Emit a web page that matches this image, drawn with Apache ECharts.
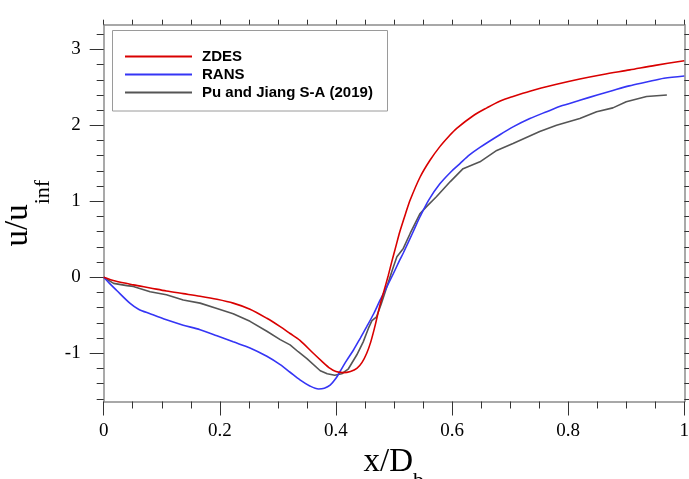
<!DOCTYPE html>
<html>
<head>
<meta charset="utf-8">
<script src="https://cdn.jsdelivr.net/npm/echarts@6/dist/echarts.min.js"></script>
<style>
html,body{margin:0;padding:0;background:#fff;}
#chart{width:689px;height:479px;}
</style>
</head>
<body>
<div id="chart"></div>
<script>
const seriesNames = ['ZDES', 'RANS', 'Pu and Jiang S-A (2019)'];
const seriesColors = ['#d90000', '#3535f5', '#555555'];

const zdesX = [0, 0.02, 0.051, 0.08, 0.108, 0.137, 0.166, 0.195, 0.223, 0.252, 0.281, 0.304, 0.321, 0.338, 0.361, 0.375, 0.39, 0.40, 0.413, 0.425, 0.436, 0.445, 0.453, 0.46, 0.467, 0.476, 0.482, 0.490, 0.496, 0.503, 0.510, 0.52, 0.528, 0.545, 0.562, 0.579, 0.595, 0.608, 0.637, 0.66, 0.683, 0.705, 0.734, 0.78, 0.82, 0.86, 0.906, 0.95, 1.0];
const zdesY = [0, -0.05, -0.10, -0.14, -0.18, -0.215, -0.25, -0.29, -0.34, -0.42, -0.54, -0.65, -0.74, -0.83, -1.0, -1.10, -1.20, -1.24, -1.255, -1.24, -1.20, -1.12, -1.0, -0.85, -0.65, -0.36, -0.20, 0.02, 0.20, 0.40, 0.60, 0.84, 1.02, 1.32, 1.54, 1.72, 1.86, 1.96, 2.13, 2.23, 2.32, 2.38, 2.45, 2.54, 2.61, 2.67, 2.73, 2.79, 2.85];

const ransX = [0, 0.01, 0.022, 0.045, 0.06, 0.08, 0.108, 0.137, 0.166, 0.195, 0.223, 0.252, 0.281, 0.304, 0.321, 0.338, 0.355, 0.370, 0.380, 0.390, 0.400, 0.407, 0.418, 0.430, 0.442, 0.453, 0.465, 0.476, 0.488, 0.499, 0.51, 0.516, 0.533, 0.545, 0.56, 0.579, 0.597, 0.614, 0.63, 0.648, 0.683, 0.705, 0.734, 0.763, 0.79, 0.82, 0.85, 0.877, 0.905, 0.935, 0.965, 1.0];
const ransY = [0, -0.08, -0.17, -0.34, -0.42, -0.48, -0.56, -0.63, -0.69, -0.77, -0.85, -0.93, -1.04, -1.15, -1.25, -1.35, -1.43, -1.47, -1.46, -1.42, -1.33, -1.24, -1.10, -0.96, -0.80, -0.65, -0.48, -0.30, -0.12, 0.05, 0.23, 0.32, 0.60, 0.80, 1.02, 1.23, 1.38, 1.50, 1.61, 1.71, 1.88, 1.98, 2.09, 2.18, 2.26, 2.33, 2.40, 2.46, 2.52, 2.57, 2.62, 2.65];

const puX = [0, 0.017, 0.04, 0.051, 0.08, 0.108, 0.137, 0.166, 0.195, 0.223, 0.252, 0.281, 0.304, 0.321, 0.335, 0.350, 0.373, 0.385, 0.398, 0.41, 0.421, 0.436, 0.447, 0.456, 0.462, 0.470, 0.478, 0.487, 0.499, 0.505, 0.516, 0.528, 0.545, 0.556, 0.573, 0.597, 0.619, 0.648, 0.677, 0.705, 0.751, 0.78, 0.82, 0.849, 0.877, 0.9, 0.935, 0.97];
const puY = [0, -0.08, -0.11, -0.12, -0.19, -0.23, -0.30, -0.34, -0.41, -0.48, -0.58, -0.71, -0.82, -0.89, -0.98, -1.07, -1.23, -1.27, -1.29, -1.27, -1.21, -1.02, -0.85, -0.67, -0.57, -0.52, -0.35, -0.14, 0.14, 0.27, 0.38, 0.58, 0.84, 0.93, 1.06, 1.26, 1.43, 1.52, 1.67, 1.76, 1.92, 2.00, 2.09, 2.18, 2.23, 2.31, 2.38, 2.40];

const yMajorTicks = [-1, 0, 1, 2, 3];
const yMinorTicks = [-1.6, -1.4, -1.2, -0.8, -0.6, -0.4, -0.2, 0.2, 0.4, 0.6, 0.8, 1.2, 1.4, 1.6, 1.8, 2.2, 2.4, 2.6, 2.8, 3.2];
const yRightTicks = [-1.6, -1.4, -1.2, -1, -0.8, -0.6, -0.4, -0.2, 0, 0.2, 0.4, 0.6, 0.8, 1, 1.2, 1.4, 1.6, 1.8, 2, 2.2, 2.4, 2.6, 2.8, 3, 3.2];

const pairs = (xs, ys) => xs.map((x, i) => [x, ys[i]]);
const serif = 'Liberation Serif';
const axisGrey = '#8c8c8c';
const tickCol = '#333';

const chart = echarts.init(document.getElementById('chart'), null, {renderer: 'canvas'});
chart.setOption({
  animation: false,
  backgroundColor: '#fff',
  grid: {left: 103.7, right: 4.7, top: 24.7, bottom: 77.5, containLabel: false, outerBoundsMode: 'none'},
  graphic: [{
    type: 'rect', z: 3,
    shape: {x: 112.5, y: 30.5, width: 275, height: 80.5},
    style: {fill: '#fff', stroke: '#9a9a9a', lineWidth: 1}
  }],
  legend: {
    orient: 'vertical', left: 125, top: 49, z: 5, padding: 0,
    itemWidth: 67, itemHeight: 14, itemGap: 3,
    icon: 'path://M0,0h67v1.8h-67z',
    data: seriesNames,
    textStyle: {fontFamily: 'Liberation Sans', fontWeight: 'bold', fontSize: 15, color: '#000', padding: [0, 0, 0, 5]}
  },
  xAxis: [{
    type: 'value', position: 'bottom', min: 0, max: 1, interval: 0.2,
    axisLine: {show: true, onZero: false, lineStyle: {color: axisGrey, width: 1.5}},
    axisTick: {show: true, length: 14, lineStyle: {color: tickCol, width: 1}},
    minorTick: {show: true, splitNumber: 4, length: 7, lineStyle: {color: tickCol, width: 1}},
    splitLine: {show: false},
    axisLabel: {fontFamily: serif, fontSize: 19, color: '#000', margin: 20},
    name: '{a|x/D}{b|b}{c| }',
    nameLocation: 'middle', nameGap: 36,
    nameTextStyle: {
      rich: {
        a: {fontFamily: serif, fontSize: 33, color: '#000', lineHeight: 40, verticalAlign: 'top'},
        b: {fontFamily: serif, fontSize: 22, color: '#000', lineHeight: 22, verticalAlign: 'bottom'},
        c: {fontSize: 1, lineHeight: 47}
      }
    }
  }, {
    type: 'value', position: 'top', min: 0, max: 1, interval: 0.05,
    axisLine: {show: true, onZero: false, lineStyle: {color: axisGrey, width: 1.5}},
    axisTick: {show: true, length: 5, lineStyle: {color: tickCol, width: 1}},
    axisLabel: {show: false}, splitLine: {show: false}
  }],
  yAxis: [{
    type: 'value', position: 'left', min: -1.635, max: 3.325,
    axisLine: {show: true, onZero: false, lineStyle: {color: axisGrey, width: 1.5}},
    axisTick: {show: true, length: 14, customValues: yMajorTicks, lineStyle: {color: tickCol, width: 1}},
    axisLabel: {customValues: yMajorTicks, fontFamily: serif, fontSize: 19, color: '#000', margin: 23},
    splitLine: {show: false},
    name: '{a|u/u}{b|inf}{c| }',
    nameLocation: 'middle', nameRotate: 90, nameGap: 48,
    nameTextStyle: {
      rich: {
        a: {fontFamily: serif, fontSize: 33, color: '#000', lineHeight: 40, verticalAlign: 'top'},
        b: {fontFamily: serif, fontSize: 22, color: '#000', lineHeight: 22, verticalAlign: 'bottom'},
        c: {fontSize: 1, lineHeight: 52}
      }
    }
  }, {
    type: 'value', position: 'left', min: -1.635, max: 3.325,
    axisLine: {show: false},
    axisTick: {show: true, length: 7, customValues: yMinorTicks, lineStyle: {color: tickCol, width: 1}},
    axisLabel: {show: false}, splitLine: {show: false}
  }, {
    type: 'value', position: 'right', min: -1.635, max: 3.325,
    axisLine: {show: true, onZero: false, lineStyle: {color: axisGrey, width: 1.5}},
    axisTick: {show: true, length: 5, customValues: yRightTicks, lineStyle: {color: tickCol, width: 1}},
    axisLabel: {show: false}, splitLine: {show: false}
  }],
  series: [
    {name: seriesNames[0], type: 'line', data: pairs(zdesX, zdesY), showSymbol: false, symbol: 'none', smooth: 0.3, color: seriesColors[0], lineStyle: {width: 1.6, color: seriesColors[0]}, z: 4},
    {name: seriesNames[1], type: 'line', data: pairs(ransX, ransY), showSymbol: false, symbol: 'none', smooth: 0.3, color: seriesColors[1], lineStyle: {width: 1.6, color: seriesColors[1]}, z: 3},
    {name: seriesNames[2], type: 'line', data: pairs(puX, puY), showSymbol: false, symbol: 'none', smooth: false, color: seriesColors[2], lineStyle: {width: 1.6, color: seriesColors[2]}, z: 2}
  ]
});
</script>
</body>
</html>
